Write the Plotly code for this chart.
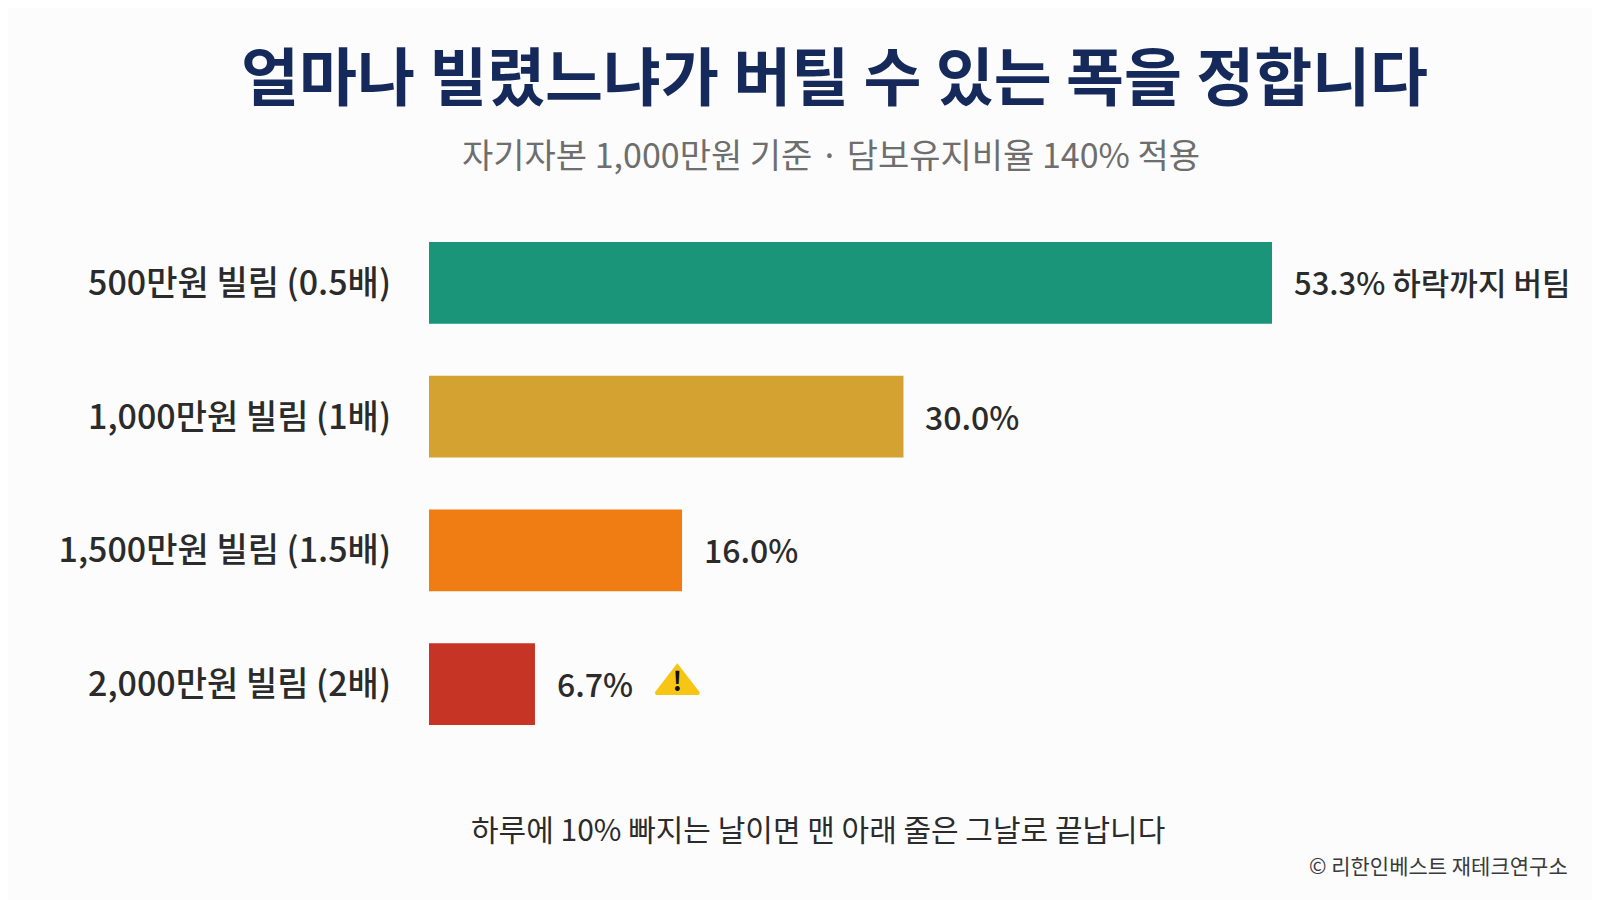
import plotly.graph_objects as go

# 데이터
categories = ["500만원 빌림 (0.5배)", "1,000만원 빌림 (1배)", "1,500만원 빌림 (1.5배)", "2,000만원 빌림 (2배)"]
drop_limits = [53.3, 30.0, 16.0, 6.7]
value_labels = ["53.3% 하락까지 버팀", "30.0%", "16.0%", "6.7%"]
bar_colors = ["#1b957a", "#d4a230", "#f07d14", "#c63426"]

W, H = 1600, 900
PLOT_L, PLOT_R, PLOT_T, PLOT_B = 421, 1560, 208, 743
FONT = "Noto Sans CJK KR"
BG = "#fcfcfc"


def px_x(p):
    return (p - PLOT_L) / (PLOT_R - PLOT_L)


def px_y(p):
    return (PLOT_B - p) / (PLOT_B - PLOT_T)


fig = go.Figure()

fig.add_trace(
    go.Bar(
        x=drop_limits,
        y=categories,
        orientation="h",
        marker=dict(color=bar_colors, line=dict(width=0)),
        width=0.61,
        hoverinfo="skip",
    )
)

# 마지막 줄 경고 아이콘
fig.add_trace(
    go.Scatter(
        x=[drop_limits[-1] + 9.0],
        y=[categories[-1]],
        mode="markers+text",
        marker=dict(symbol="triangle-up", size=37, color="#f7c514",
                    line=dict(width=3, color="#f7c514")),
        text=["<b>!</b>"],
        textposition="middle center",
        textfont=dict(family=FONT, size=26, color="#111111"),
        hoverinfo="skip",
    )
)

annotations = []
for cat, val, lab in zip(categories, drop_limits, value_labels):
    annotations.append(dict(
        x=val, y=cat, xref="x", yref="y", text=lab, showarrow=False,
        xanchor="left", yanchor="middle", xshift=20, yshift=1,
        font=dict(family=FONT, size=32 if val < 50 else 31, color="#2b2b2b", weight=500),
    ))

annotations += [
    dict(x=px_x(826), y=px_y(65), xref="paper", yref="paper",
         text="<b>얼마나 빌렸느냐가 버틸 수 있는 폭을 정합니다</b>", showarrow=False,
         xanchor="center", yanchor="middle",
         font=dict(family=FONT, size=63, color="#15295a")),
    dict(x=px_x(823), y=px_y(146), xref="paper", yref="paper",
         text="자기자본 1,000만원 기준 · 담보유지비율 140% 적용", showarrow=False,
         xanchor="center", yanchor="middle",
         font=dict(family=FONT, size=34, color="#6e6e6e")),
    dict(x=px_x(810), y=px_y(820), xref="paper", yref="paper",
         text="하루에 10% 빠지는 날이면 맨 아래 줄은 그날로 끝납니다", showarrow=False,
         xanchor="center", yanchor="middle",
         font=dict(family=FONT, size=30, color="#2b2b2b")),
    dict(x=px_x(1562), y=px_y(857), xref="paper", yref="paper",
         text="© 리한인베스트 재테크연구소", showarrow=False,
         xanchor="right", yanchor="middle",
         font=dict(family=FONT, size=21, color="#3a3a3a")),
]

fig.update_layout(
    width=W,
    height=H,
    margin=dict(l=PLOT_L, r=W - PLOT_R, t=PLOT_T, b=H - PLOT_B),
    paper_bgcolor=BG,
    plot_bgcolor=BG,
    showlegend=False,
    annotations=annotations,
    xaxis=dict(range=[0, 53.3 * (PLOT_R - PLOT_L) / 843], visible=False, fixedrange=True),
    yaxis=dict(
        autorange="reversed",
        showgrid=False,
        zeroline=False,
        showline=False,
        ticks="",
        ticklabelstandoff=37,
        tickfont=dict(family=FONT, size=34, color="#2b2b2b", weight=500),
    ),
)

fig.write_html("out.html")
